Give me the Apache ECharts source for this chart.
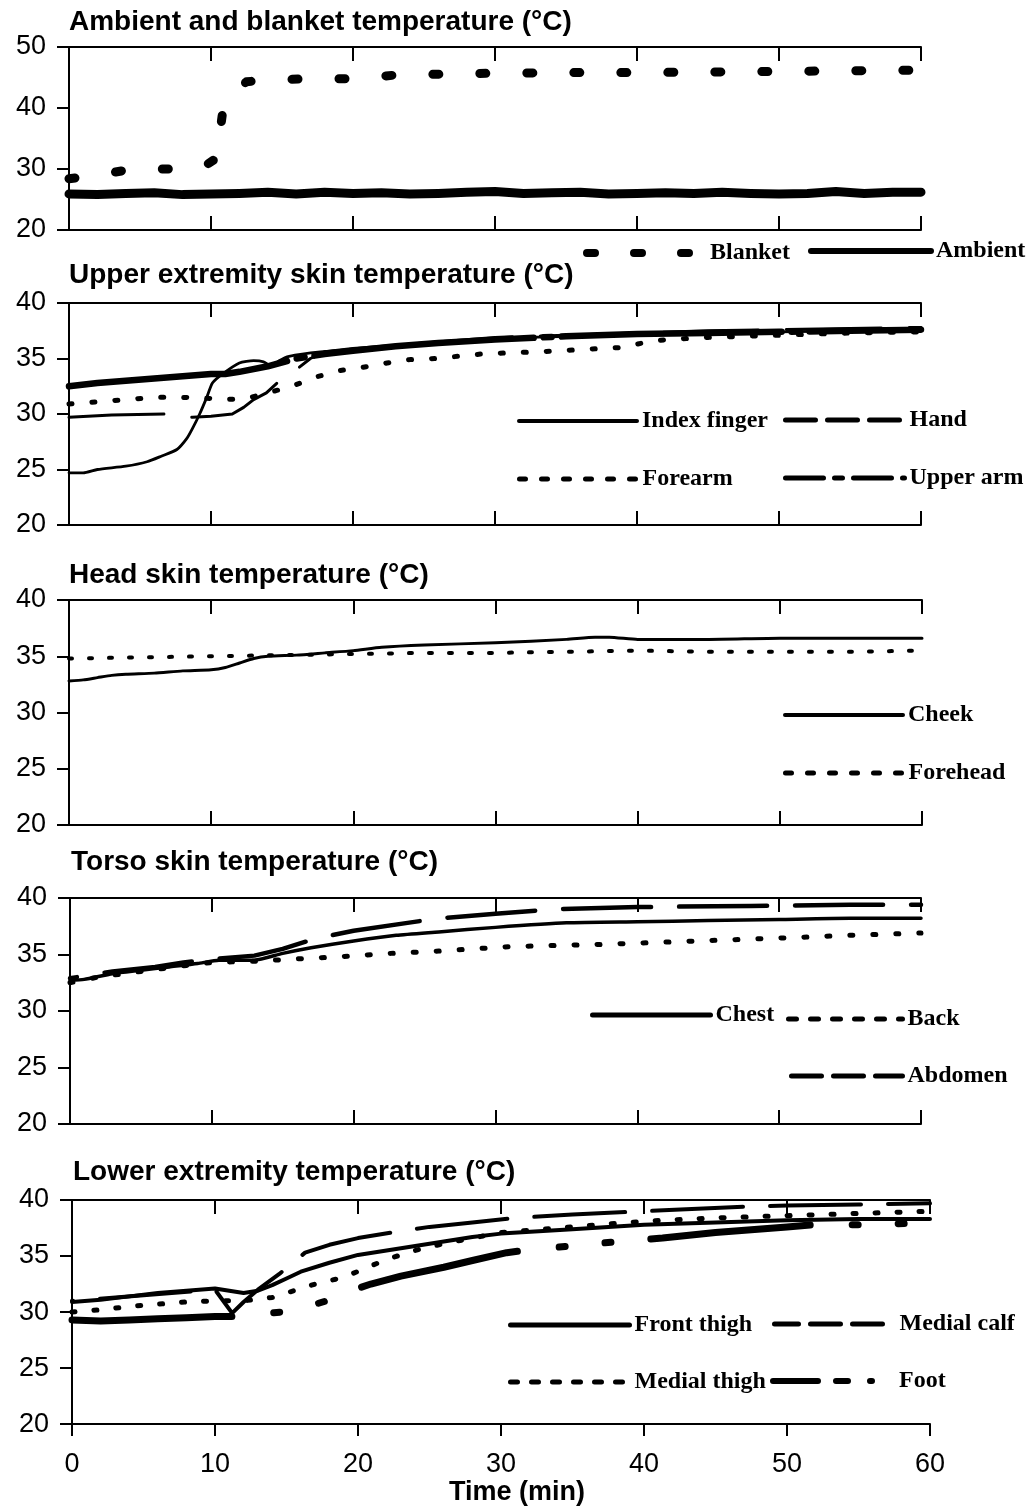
<!DOCTYPE html>
<html><head><meta charset="utf-8">
<script src="https://cdn.jsdelivr.net/npm/echarts@6/dist/echarts.min.js"></script>
<style>html,body{margin:0;padding:0;background:#fff}#c{width:1031px;height:1507px}</style>
</head><body><div id="c"></div>
<script>
// ---------------- DATA (time in min, temperature in °C) ----------------
const xTicks = [0, 10, 20, 30, 40, 50, 60];
const panelTitles = [
  'Ambient and blanket temperature (°C)',
  'Upper extremity skin temperature (°C)',
  'Head skin temperature (°C)',
  'Torso skin temperature (°C)',
  'Lower extremity temperature (°C)'
];
const xAxisName = 'Time (min)';

// Panel 1
const blanket = [[0,28.4],[2,29.0],[4,29.8],[6,30.0],[8,30.0],[9.5,30.4],[10.4,31.8],[10.8,39.0],[11.5,42.2],[12.5,44.3],[14,44.6],[17,44.8],[20,44.8],[23,45.4],[27,45.6],[30,45.7],[35,45.8],[40,45.8],[45,45.9],[50,46.0],[55,46.1],[60,46.2]];
const ambientTime = [0,2,4,6,8,10,12,14,16,18,20,22,24,26,28,30,32,34,36,38,40,42,44,46,48,50,52,54,56,58,60];
const ambientTemp = [25.9,25.8,26.0,26.1,25.8,25.9,26.0,26.2,25.9,26.2,26.0,26.1,25.9,26.0,26.2,26.3,26.0,26.1,26.2,25.9,26.0,26.1,26.0,26.2,26.0,25.9,26.0,26.3,26.0,26.2,26.2];

// Panel 2
const indexFinger = [[0,24.7],[1,24.7],[2,25.0],[4,25.3],[5.5,25.7],[6.5,26.2],[7.6,26.8],[8.3,27.8],[8.7,28.7],[9.2,30.0],[9.7,31.5],[10.1,32.8],[10.8,33.6],[12,34.6],[13,34.8],[13.7,34.7],[14.3,34.3],[14.8,34.8],[15.5,35.2],[17.7,35.6],[20,35.8],[25,36.3],[30,36.8],[35,37.0],[40,37.2],[45,37.3],[50,37.4],[55,37.5],[60,37.6]];
const hand = [[0,29.7],[3,29.9],[6.7,30.0],[8.7,29.7],[10,29.8],[11.5,30.0],[12.3,30.6],[13,31.3],[13.9,31.9],[15,33.2],[16,34.0],[17,35.0],[18,35.6],[20,35.9],[25,36.4],[30,36.9],[35,37.1],[40,37.3],[45,37.5],[50,37.6],[55,37.7],[60,37.8]];
const forearm = [[0,30.9],[2,31.1],[4,31.3],[6,31.5],[8,31.5],[10,31.4],[11,31.3],[12.5,31.4],[14,31.9],[15.7,32.5],[17.3,33.3],[19,33.9],[20.7,34.2],[22.4,34.6],[24,34.9],[25.8,35.0],[27.4,35.2],[29,35.4],[30.7,35.5],[33,35.6],[36,35.8],[39,36.0],[40.4,36.4],[42,36.7],[45,36.9],[50,37.1],[55,37.3],[60,37.4]];
const upperArm = [[0,32.5],[2,32.8],[4,33.0],[6,33.2],[8,33.4],[10,33.6],[11,33.6],[12,33.8],[14,34.3],[16,35.0],[18,35.4],[20,35.7],[23,36.1],[26,36.4],[30,36.7],[35,37.0],[40,37.2],[45,37.3],[50,37.4],[55,37.5],[60,37.6]];

// Panel 3
const cheek = [[0,32.8],[1,32.9],[2,33.1],[3,33.3],[4,33.4],[6,33.5],[8,33.7],[10,33.8],[11,34.0],[12,34.4],[13,34.8],[14,35.0],[16,35.1],[18,35.3],[20,35.5],[22,35.8],[25,36.0],[30,36.2],[35,36.5],[37,36.7],[38,36.7],[40,36.5],[45,36.5],[50,36.6],[55,36.6],[60,36.6]];
const forehead = [[0,34.8],[5,34.9],[10,35.0],[15,35.1],[20,35.2],[25,35.3],[30,35.3],[35,35.4],[40,35.5],[45,35.4],[50,35.4],[55,35.4],[60,35.5]];

// Panel 4
const chest = [[0,32.7],[1,32.8],[3,33.3],[5,33.6],[7,33.9],[9,34.2],[10.5,34.5],[13,34.5],[15,35.1],[17,35.6],[20,36.2],[23,36.7],[26,37.0],[30,37.4],[35,37.8],[40,37.9],[45,38.0],[50,38.1],[55,38.2],[60,38.2]];
const back = [[0,32.5],[2,33.0],[5,33.5],[8,34.0],[10,34.3],[13,34.4],[15.8,34.6],[19,34.8],[22.6,35.1],[26,35.3],[31,35.7],[37.7,35.9],[44.3,36.2],[51,36.5],[55,36.7],[60,36.9]];
const abdomen = [[0,32.9],[3,33.5],[6,33.9],[8,34.3],[10,34.6],[13,34.9],[15,35.5],[17.3,36.4],[20,37.1],[23.8,37.8],[26,38.2],[30,38.6],[34,39.0],[40,39.2],[48,39.3],[55,39.4],[60,39.4]];

// Panel 5
const frontThigh = [[0,30.9],[2,31.1],[4,31.4],[6,31.7],[8,31.9],[10,32.1],[11,31.9],[12,31.7],[13,31.9],[14,32.4],[15,33.0],[16,33.6],[18,34.4],[20,35.1],[22,35.5],[24,35.9],[26,36.3],[28,36.7],[30,37.0],[35,37.4],[40,37.8],[45,38.0],[50,38.2],[55,38.3],[60,38.3]];
const medialCalf = [[0,31.0],[5,31.5],[10,32.0],[11.2,29.9],[12,30.9],[13,32.0],[14.5,33.4],[16.3,35.3],[18,36.0],[20,36.6],[22.8,37.2],[25,37.6],[28,38.0],[31,38.4],[35,38.7],[40,39.0],[47,39.4],[50,39.5],[55,39.6],[60,39.7]];
const medialThigh = [[0,30.0],[2,30.2],[4,30.5],[6,30.7],[8,30.9],[10,31.0],[12,31.0],[14,31.3],[15.5,31.9],[17,32.5],[19,33.1],[20.5,33.9],[22,34.7],[24,35.5],[26,36.1],[28,36.6],[30,37.1],[35,37.6],[40,38.1],[45,38.4],[50,38.6],[55,38.8],[60,39.0]];
const foot = [[0,29.3],[2,29.2],[4,29.3],[6,29.4],[8,29.5],[10,29.6],[11.3,29.6],[13,29.8],[14.6,30.0],[16,30.3],[17.8,31.0],[19,31.7],[20.9,32.5],[23,33.2],[26,34.0],[28,34.6],[30.4,35.3],[32.3,35.6],[35,35.9],[38.3,36.3],[41.3,36.6],[45,37.1],[50,37.6],[52,37.8],[55.2,37.8],[58.4,37.9],[60,38.0]];

const yRanges = [[20, 50, 10], [20, 40, 5], [20, 40, 5], [20, 40, 5], [20, 40, 5]];

// ---------------- LAYOUT / STYLE ----------------
const SANS = '"Liberation Sans", Arial, Helvetica, sans-serif';
const SERIF = '"Liberation Serif", "Times New Roman", serif';
const grids = [
  {left: 69, top: 47, width: 852, height: 183},
  {left: 69, top: 303, width: 852, height: 222},
  {left: 69, top: 600, width: 853, height: 225},
  {left: 70, top: 898, width: 851, height: 226},
  {left: 72, top: 1200, width: 858, height: 225}
];
const titleTops = [8, 261, 561, 848, 1158];
const titleLefts = [69, 69, 69, 71, 73];

const xAxes = [], yAxes = [];
grids.forEach((g, i) => {
  const last = i === grids.length - 1;
  const axisLine = {show: true, lineStyle: {color: '#000', width: 2}};
  xAxes.push({
    gridIndex: i, type: 'value', position: 'bottom', min: xTicks[0], max: xTicks[xTicks.length - 1], interval: 10,
    axisLine, splitLine: {show: false},
    axisTick: {show: true, inside: !last, length: last ? 12 : 14, lineStyle: {color: '#000', width: 2}},
    axisLabel: {show: last, margin: 27, fontSize: 27, color: '#000', fontFamily: SANS},
    name: last ? xAxisName : '', nameLocation: 'middle', nameGap: 52,
    nameTextStyle: {fontSize: 27, fontWeight: 'bold', color: '#000', fontFamily: SANS, padding: [0, 0, 0, 32]}
  });
  xAxes.push({
    gridIndex: i, type: 'value', position: 'top', min: xTicks[0], max: xTicks[xTicks.length - 1], interval: 10,
    axisLine, splitLine: {show: false},
    axisTick: {show: true, inside: true, length: 14, lineStyle: {color: '#000', width: 2}},
    axisLabel: {show: false}
  });
  const [mn, mx, iv] = yRanges[i];
  yAxes.push({
    gridIndex: i, type: 'value', position: 'left', min: mn, max: mx, interval: iv,
    axisLine, splitLine: {show: false},
    axisTick: {show: true, inside: false, length: 12, lineStyle: {color: '#000', width: 2}},
    axisLabel: {show: true, margin: 23, fontSize: 27, color: '#000', fontFamily: SANS}
  });
  yAxes.push({
    gridIndex: i, type: 'value', position: 'right', min: mn, max: mx, interval: iv,
    axisLine, splitLine: {show: false},
    axisTick: {show: true, inside: true, length: 12, lineStyle: {color: '#000', width: 2}},
    axisLabel: {show: false}
  });
});

function mk(name, data, panel, width, dash, offset, smooth) {
  return {
    name, type: 'line', data, xAxisIndex: panel * 2, yAxisIndex: panel * 2,
    symbol: 'none', smooth: smooth || false, animation: false, clip: true,
    lineStyle: {color: '#000', width, type: dash || 'solid', dashOffset: offset || 0, cap: 'round', join: 'round'}
  };
}
const zip = (t, v) => t.map((x, k) => [x, v[k]]);

const series = [
  mk('Blanket', blanket, 0, 9, [6, 41], 0),
  mk('Ambient', zip(ambientTime, ambientTemp), 0, 9, 'solid'),
  mk('Index finger', indexFinger, 1, 2.8, 'solid', 0, 0.2),
  mk('Hand', hand, 1, 3, [95, 28], 0),
  mk('Forearm', forearm, 1, 5, [3, 20], 0),
  mk('Upper arm', upperArm, 1, 6.5, [220, 10, 8, 10], 0),
  mk('Cheek', cheek, 2, 3, 'solid', 0, 0.2),
  mk('Forehead', forehead, 2, 4, [3, 17], 0),
  mk('Chest', chest, 3, 3.5, 'solid', 0, 0.2),
  mk('Back', back, 3, 5, [3, 20], 0),
  mk('Abdomen', abdomen, 3, 4.5, [88, 28], 81),
  mk('Front thigh', frontThigh, 4, 4, 'solid', 0),
  mk('Medial calf', medialCalf, 4, 4, [91, 27], 90),
  mk('Medial thigh', medialThigh, 4, 5, [3, 19], 0),
  mk('Foot', foot, 4, 7, [160, 42, 6, 40, 6, 40], 0)
];

// legend placements: [name, left, centerY, sampleWidth, sampleLineWidth, sampleDash]
const legendItems = [
  ['Blanket', 583, 253, 118, 8, [8, 39]],
  ['Ambient', 808, 251, 120, 6, 'solid'],
  ['Index finger', 517, 421, 118, 4, 'solid'],
  ['Hand', 783, 420, 119, 5, [30, 12]],
  ['Forearm', 517, 479, 118, 5, [6, 16]],
  ['Upper arm', 783, 478, 119, 5, [38, 11, 8, 11]],
  ['Cheek', 783, 715, 118, 4, 'solid'],
  ['Forehead', 783, 773, 118, 5, [6, 16]],
  ['Chest', 590, 1015, 118, 5, 'solid'],
  ['Back', 786, 1019, 114, 5, [8, 14]],
  ['Abdomen', 786, 1076, 114, 5, [30, 12]],
  ['Front thigh', 508, 1325, 119, 5, 'solid'],
  ['Medial calf', 772, 1324, 120, 5, [30, 12]],
  ['Medial thigh', 508, 1382, 119, 5, [7, 14]],
  ['Foot', 770, 1381, 121, 6, [45, 18, 12, 22, 2, 24]]
];
const legends = legendItems.map(([name, left, cy, w, lw, dash]) => ({
  data: [name], left, top: cy - 12, orient: 'horizontal', padding: 0,
  itemWidth: w, itemHeight: 24, itemGap: 0, selectedMode: false,
  textStyle: {fontFamily: SERIF, fontSize: 24, fontWeight: 'bold', color: '#000', padding: [0, 0, 0, 0]},
  lineStyle: {width: lw, type: dash, color: '#000', cap: 'round'},
  itemStyle: {opacity: 0, color: 'rgba(0,0,0,0)', borderWidth: 0}
}));

const titles = panelTitles.map((t, i) => ({
  text: t, left: titleLefts[i], top: titleTops[i], padding: 0,
  textStyle: {fontFamily: SANS, fontSize: 28, fontWeight: 'bold', color: '#000'}
}));

const chart = echarts.init(document.getElementById('c'), null, {renderer: 'canvas'});
chart.setOption({
  backgroundColor: '#fff', animation: false,
  title: titles, grid: grids, xAxis: xAxes, yAxis: yAxes, legend: legends, series
});
</script></body></html>
